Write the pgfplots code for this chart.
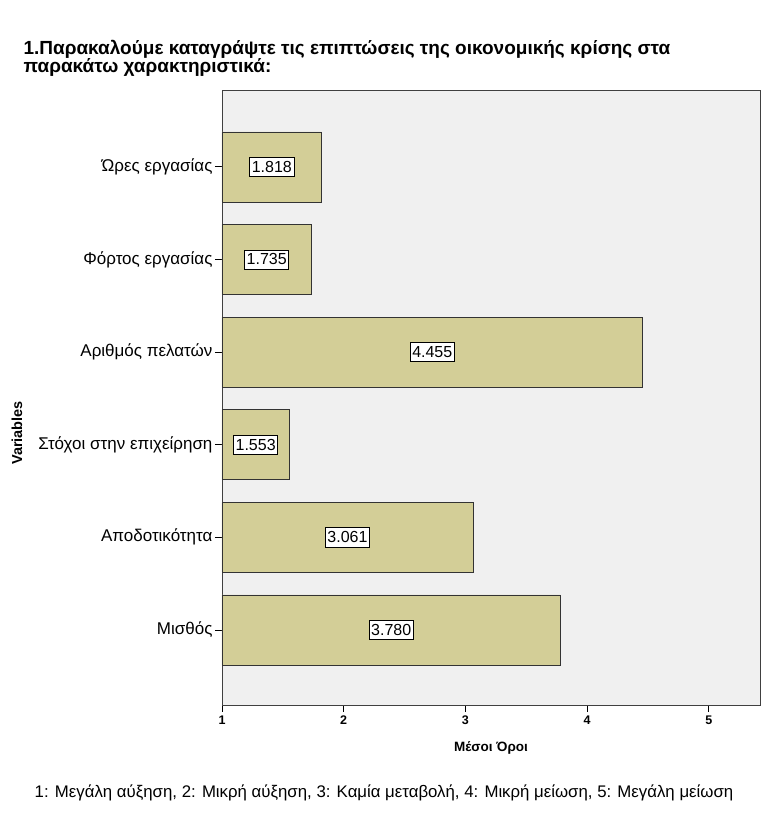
\documentclass[border=0pt]{standalone}
\usepackage{pgfplots}
\usepackage{pgfplotstable}
\pgfplotsset{compat=1.18}
\usepackage{fontspec}
\setmainfont{Liberation Sans}

\definecolor{barfill}{RGB}{211,206,151}
\definecolor{plotbg}{RGB}{240,240,240}

\pgfplotstableread{
pos val
6 1.818
5 1.735
4 4.455
3 1.553
2 3.061
1 3.780
}\means

\begin{document}
\begin{tikzpicture}[x=1pt,y=1pt]
\useasboundingbox (0,0) rectangle (770,831);
\begin{axis}[
    at={(222pt,126pt)}, anchor=south west,
    scale only axis, width=538pt, height=615pt,
    xmin=1, xmax=5.42,
    ymin=0.19, ymax=6.83,
    xtick={1,2,3,4,5},
    ytick={1,2,3,4,5,6},
    xtick pos=bottom, ytick pos=left,
    yticklabels={Μισθός,Αποδοτικότητα,Στόχοι στην επιχείρηση,Αριθμός πελατών,Φόρτος εργασίας,Ώρες εργασίας},
    tick align=outside,
    major tick length=7pt,
    tick style={black, line width=0.8pt},
    axis background/.style={fill=plotbg},
    axis line style={draw=black!75, line width=0.8pt},
    yticklabel style={font=\fontsize{17}{19}\selectfont, xshift=1pt},
    xticklabel style={font=\bfseries\fontsize{12.5}{14}\selectfont},
    /pgf/number format/assume math mode=true,
    clip=true,
]
\addplot[xbar, bar width=70pt, fill=barfill, draw=black!80, line width=0.6pt]
    table[x=val, y=pos] {\means};
\addplot[draw=none, mark=none,
    nodes near coords,
    point meta=explicit,
    nodes near coords align={center},
    every node near coord/.style={anchor=center, fill=white, draw=black, line width=0.6pt,
        inner xsep=2pt, inner ysep=4pt, font=\fontsize{16}{18}\selectfont},
    nodes near coords={\pgfmathprintnumber[fixed, fixed zerofill, precision=3]{\pgfplotspointmeta}},
    ] table[x expr={(\thisrow{val}+1)/2}, y=pos, meta=val] {\means};
\end{axis}
\node[anchor=base west, align=left, font=\bfseries\fontsize{19}{18}\selectfont]
    at (20,758) {1.Παρακαλούμε καταγράψτε τις επιπτώσεις της οικονομικής κρίσης στα\\παρακάτω χαρακτηριστικά:};
\node[anchor=base, font=\bfseries\fontsize{13.5}{15}\selectfont] at (491,79) {Μέσοι Όροι};
\node[font=\bfseries\fontsize{14.5}{16}\selectfont, rotate=90] at (17,398) {Variables};
\node[anchor=base, font=\fontsize{16.8}{18}\selectfont] at (384,34) {1: Μεγάλη αύξηση, 2: Μικρή αύξηση, 3: Καμία μεταβολή, 4: Μικρή μείωση, 5: Μεγάλη μείωση};
\end{tikzpicture}
\end{document}
